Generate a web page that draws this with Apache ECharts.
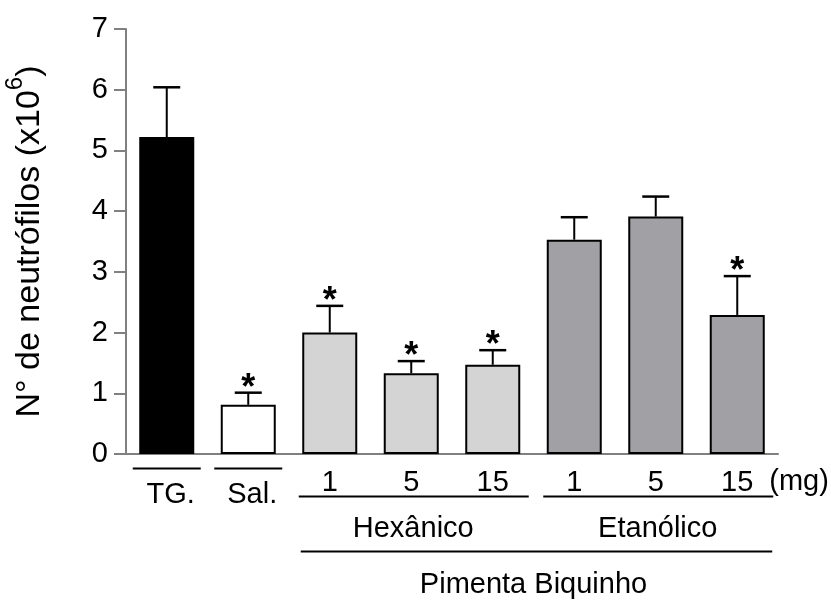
<!DOCTYPE html>
<html>
<head>
<meta charset="utf-8">
<script src="https://cdn.jsdelivr.net/npm/echarts@6/dist/echarts.min.js"></script>
<style>
html,body{margin:0;padding:0;background:#fff;}
#chart{width:831px;height:601px;}
</style>
</head>
<body>
<div id="chart"></div>
<script>
// ---- data ----
const categories = ['TG.', 'Sal.', 'Hex 1', 'Hex 5', 'Hex 15', 'Eta 1', 'Eta 5', 'Eta 15'];
const means = [5.22, 0.81, 2.00, 1.33, 1.47, 3.53, 3.91, 2.29];
const errors = [0.82, 0.20, 0.44, 0.20, 0.24, 0.37, 0.33, 0.64];
const significant = [false, true, true, true, true, false, false, true];
const barColors = ['#000000', '#ffffff', '#d4d4d4', '#d4d4d4', '#d4d4d4', '#a1a1a5', '#a1a1a5', '#a1a1a5'];
const yTicks = [0, 1, 2, 3, 4, 5, 6, 7];
const controlLabels = [{ text: 'TG.', idx: 0 }, { text: 'Sal.', idx: 1 }];
const doseLabels = [{ text: '1', idx: 2 }, { text: '5', idx: 3 }, { text: '15', idx: 4 },
                    { text: '1', idx: 5 }, { text: '5', idx: 6 }, { text: '15', idx: 7 }];
const extractGroups = [{ name: 'Hexânico', from: 2, to: 4 }, { name: 'Etanólico', from: 5, to: 7 }];
const plantLabel = 'Pimenta Biquinho';
const unitLabel = '(mg)';
const yName = 'N° de neutrófilos (x10';
const ySup = '6';

const FONT = "'Liberation Sans', Arial, sans-serif";
const chart = echarts.init(document.getElementById('chart'), null, { renderer: 'canvas' });

const option = {
  backgroundColor: '#ffffff',
  animation: false,
  grid: { left: 126, right: 53, top: 29, bottom: 147, containLabel: false, outerBoundsMode: 'none' },
  xAxis: {
    type: 'category',
    data: categories,
    axisLine: { show: true, lineStyle: { color: '#808080', width: 2 } },
    axisTick: { show: false },
    axisLabel: { show: false },
    splitLine: { show: false }
  },
  yAxis: {
    type: 'value',
    min: yTicks[0],
    max: yTicks[yTicks.length - 1],
    interval: 1,
    name: '{a|' + yName + '}{s|' + ySup + '}{a|)}',
    nameLocation: 'middle',
    nameRotate: 90,
    nameGap: 79,
    nameTextStyle: {
      rich: {
        a: { fontSize: 34, fontFamily: FONT, color: '#000', lineHeight: 44, verticalAlign: 'bottom' },
        s: { fontSize: 24, fontFamily: FONT, color: '#000', lineHeight: 24, verticalAlign: 'top' }
      }
    },
    axisLine: { show: true, lineStyle: { color: '#808080', width: 2 } },
    axisTick: { show: true, inside: false, length: 12, lineStyle: { color: '#808080', width: 2 } },
    axisLabel: { fontSize: 29, fontFamily: FONT, color: '#000', margin: 18 },
    splitLine: { show: false }
  },
  series: [
    {
      type: 'bar',
      barWidth: 55,
      data: means.map((v, i) => ({
        value: v,
        itemStyle: { color: barColors[i], borderColor: '#000', borderWidth: 2 }
      })),
      z: 2
    },
    {
      type: 'custom',
      z: 3,
      data: means.map((v, i) => [i, v, v + errors[i], significant[i] ? 1 : 0]),
      renderItem: function (params, api) {
        const x = api.value(0);
        const top = api.coord([x, api.value(1)]);
        const hi = api.coord([x, api.value(2)]);
        const half = 13.5;
        const children = [
          { type: 'line', shape: { x1: top[0], y1: top[1], x2: hi[0], y2: hi[1] }, style: { stroke: '#000', lineWidth: 2 } },
          { type: 'line', shape: { x1: hi[0] - half, y1: hi[1], x2: hi[0] + half, y2: hi[1] }, style: { stroke: '#000', lineWidth: 2.5 } }
        ];
        if (api.value(3)) {
          children.push({
            type: 'text',
            style: { text: '*', x: hi[0], y: hi[1] - 4, textAlign: 'center', textVerticalAlign: 'middle', fontSize: 36, fontWeight: 'bold', fontFamily: FONT, fill: '#000' }
          });
        }
        return { type: 'group', children: children };
      }
    }
  ]
};
chart.setOption(option);

// ---- category annotations below the axis ----
function px(i) { return chart.convertToPixel({ xAxisIndex: 0 }, i); }
const g = [];
function line(x1, y, x2, w) {
  g.push({ type: 'line', shape: { x1: x1, y1: y, x2: x2, y2: y }, style: { stroke: '#000', lineWidth: w || 2 } });
}
function text(t, x, y, size, align) {
  g.push({ type: 'text', x: x, y: y, style: { text: t, fontSize: size, fontFamily: FONT, fill: '#000', align: align || 'center', verticalAlign: 'middle' } });
}
controlLabels.forEach(c => {
  const cx = px(c.idx);
  line(cx - 34, 468.5, cx + 34, 2);
  text(c.text, cx + 4, 495, 29);
});
doseLabels.forEach(d => text(d.text, px(d.idx), 483, 29));
extractGroups.forEach(gr => {
  const a = px(gr.from), b = px(gr.to);
  line(a - 31, 496.5, b + 36, 2);
  text(gr.name, (a + b) / 2 + 2, 529, 29);
});
line(px(extractGroups[0].from) - 29, 551.5, px(extractGroups[1].to) + 35, 2);
text(plantLabel, (px(extractGroups[0].from) + px(extractGroups[1].to)) / 2, 585, 29);
text(unitLabel, px(extractGroups[1].to) + 32, 482, 29, 'left');
chart.setOption({ graphic: g });
</script>
</body>
</html>
